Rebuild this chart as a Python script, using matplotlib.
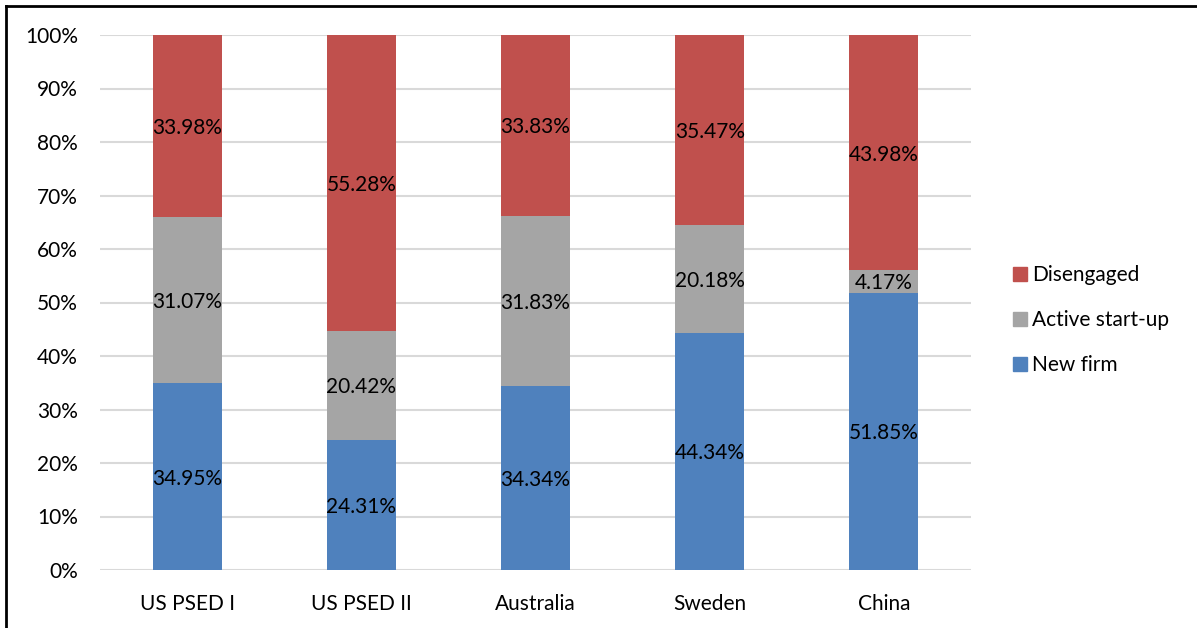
import matplotlib
matplotlib.use("Agg")
import matplotlib.pyplot as plt
from matplotlib.lines import Line2D
from matplotlib.ticker import PercentFormatter

categories = ["US PSED I", "US PSED II", "Australia", "Sweden", "China"]
new_firm = [34.95, 24.31, 34.34, 44.34, 51.85]
active_startup = [31.07, 20.42, 31.83, 20.18, 4.17]
disengaged = [33.98, 55.28, 33.83, 35.47, 43.98]

series = [
    ("New firm", new_firm, "#4F81BD"),
    ("Active start-up", active_startup, "#A5A5A5"),
    ("Disengaged", disengaged, "#C0504D"),
]

plt.rcParams["font.family"] = ["Lato", "DejaVu Sans"]

fig = plt.figure(figsize=(11.97, 6.28), dpi=100)
ax = fig.add_axes([100 / 1197, 1 - 570 / 628, 871 / 1197, 535 / 628])

x = list(range(len(categories)))
totals = [a + b + c for a, b, c in zip(new_firm, active_startup, disengaged)]
bottoms = [0.0] * len(categories)
handles = []
for name, vals, color in series:
    shares = [v / t for v, t in zip(vals, totals)]
    ax.bar(x, shares, width=0.396, bottom=bottoms, color=color, zorder=2)
    for xi, b, s, v in zip(x, bottoms, shares, vals):
        ax.text(xi, b + s / 2, f"{v:.2f}%", ha="center", va="center_baseline",
                fontsize=15, color="#000000", zorder=3)
    bottoms = [b + s for b, s in zip(bottoms, shares)]
    handles.append((name, color))

ax.set_xlim(-0.5, len(categories) - 0.5)
ax.set_ylim(0, 1)
ax.set_yticks([i / 10 for i in range(11)])
ax.yaxis.set_major_formatter(PercentFormatter(1.0, decimals=0))
ax.set_xticks(x)
ax.set_xticklabels(categories)
ax.tick_params(axis="both", length=0, labelsize=15, colors="#000000")
ax.tick_params(axis="y", pad=16)
ax.tick_params(axis="x", pad=17)
ax.grid(axis="y", color="#D9D9D9", linewidth=1.5, zorder=0)
for sp in ax.spines.values():
    sp.set_visible(False)

# legend, top entry first
legend_handles = [Line2D([], [], marker="s", linestyle="none", markersize=10,
                         markerfacecolor=c, markeredgecolor=c)
                  for _, c in reversed(handles)]
legend_labels = [n for n, _ in reversed(handles)]
fig.legend(legend_handles, legend_labels, loc="center left",
           bbox_to_anchor=(991 / 1197, 1 - 320 / 628), frameon=False,
           fontsize=15, handletextpad=0.05, labelspacing=1.2, handlelength=1.0)

# outer frame (top and left edges)
fig.add_artist(Line2D([6 / 1197, 1.0], [1 - 6 / 628, 1 - 6 / 628],
                      transform=fig.transFigure, color="black", linewidth=2))
fig.add_artist(Line2D([6 / 1197, 6 / 1197], [0.0, 1 - 6 / 628],
                      transform=fig.transFigure, color="black", linewidth=2))

fig.savefig("out.png", dpi=100)
